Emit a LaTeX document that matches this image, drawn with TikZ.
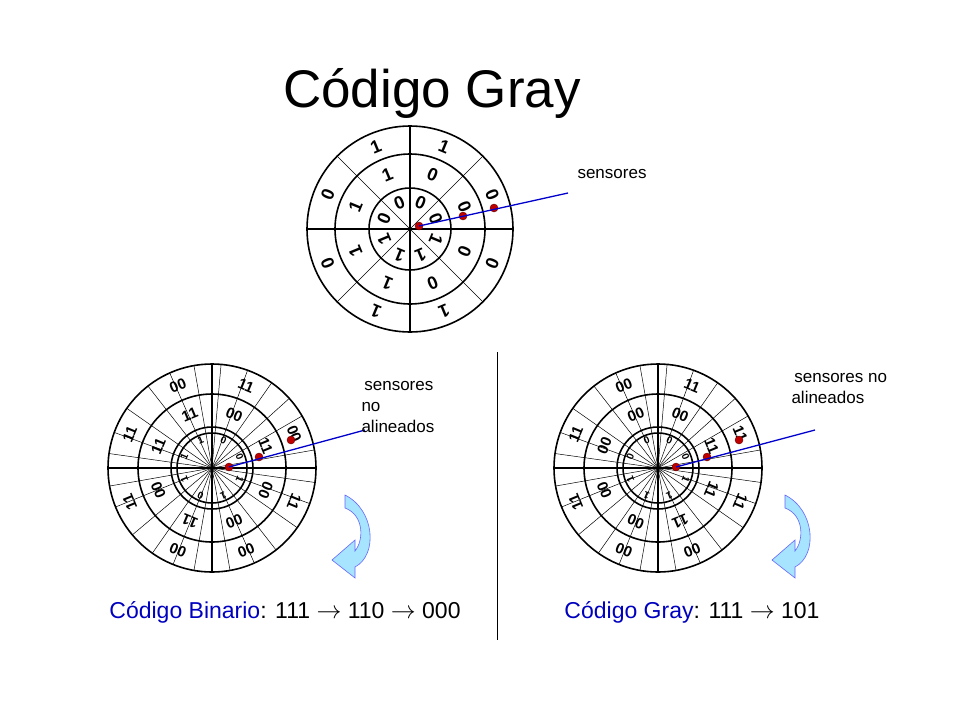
\documentclass[tikz,border=0pt]{standalone}
\usepackage{fontspec}
\setmainfont{Liberation Sans}
\begin{document}
\begin{tikzpicture}[x=1pt,y=-1pt,
  ring/.style={line width=1.6pt},
  thin/.style={line width=0.5pt},
  dig/.style={font=\bfseries\fontsize{18}{18}\selectfont,inner sep=1pt},
  mdig/.style={font=\bfseries\fontsize{15}{15}\selectfont,inner sep=0pt},
  sdig/.style={font=\bfseries\fontsize{10}{10}\selectfont,inner sep=0pt},
  sens/.style={circle,fill=red!75!black,draw=red!40!black,inner sep=0pt,minimum size=8pt},
  lbl/.style={font=\fontsize{17}{21}\selectfont,align=left,anchor=north west},
  arr/.style={fill=blue!30!cyan!35,draw=blue!60,line width=0.6pt}]
\useasboundingbox (0,0) rectangle (960,720);
\node (title) at (432,93) {\fontsize{53}{53}\selectfont Código Gray};
% ---------- top disk
\begin{scope}[shift={(410,229)}]
\coordinate (c0) at (0,0);
\foreach \a in {0,90} \draw[ring,line width=1.2pt] (\a:103) -- (\a+180:103);
\foreach \a in {45,135} \draw[thin] (\a:103) -- (\a+180:103);
\foreach \r in {103,75,41} \draw[ring] (0,0) circle (\r);
\foreach \a/\o/\m/\i in {67.5/1/0/0,22.5/0/0/0,-22.5/0/0/1,-67.5/1/0/1,-112.5/1/1/1,-157.5/0/1/1,157.5/0/1/0,112.5/1/1/0}{
  \node[dig,rotate=\a-90] at (-\a:89) {\o};
  \node[dig,rotate=\a-90] at (-\a:59) {\m};
  \node[dig,rotate=\a-90] at (-\a:28) {\i};
}
\end{scope}
\node[sens] (t1) at (419,226) {};
\node[sens] (t2) at (463,216) {};
\node[sens] (t3) at (494,208) {};
\coordinate (te) at (568,193);
\draw[blue!80!black,line width=1.3pt] (t1.center) -- (te);
\node[lbl] (ts) at (574,166) {sensores};
% ---------- lower disks
\foreach \cx/\code in {212/bin,658/gray}{
\begin{scope}[shift={(\cx,468)}]
\foreach \a in {0,90} \draw[line width=1.1pt] (\a:104) -- (\a+180:104);
\foreach \a in {8,20,35,52,66,80,100,112,125,140,158,170,188,200,215,232,246,260,275,290,305,318,330,350}
  \draw[thin] (0,0) -- (\a:104);
\foreach \r in {104,74,41,35} \draw[ring] (0,0) circle (\r);
\end{scope}}
\begin{scope}[shift={(212,468)}]
\foreach \a/\o/\m/\i in {67.5/1/0/0,22.5/0/1/0,-22.5/1/0/1,-67.5/0/0/1,-112.5/0/1/0,-157.5/1/0/1,157.5/1/1/1,112.5/0/1/1}{
  \node[mdig,rotate=\a-90] at (-\a:89) {\o\o};
  \node[mdig,rotate=\a-90] at (-\a:58) {\m\m};
  \node[sdig,rotate=\a-90] at (-\a:30) {\i};
}
\end{scope}
\begin{scope}[shift={(658,468)}]
\foreach \a/\o/\m/\i in {67.5/1/0/0,22.5/1/1/0,-22.5/1/1/1,-67.5/0/1/1,-112.5/0/0/1,-157.5/1/0/1,157.5/1/0/0,112.5/0/0/0}{
  \node[mdig,rotate=\a-90] at (-\a:89) {\o\o};
  \node[mdig,rotate=\a-90] at (-\a:58) {\m\m};
  \node[sdig,rotate=\a-90] at (-\a:30) {\i};
}
\end{scope}
\node[sens] (l1) at (229,467) {};
\node[sens] (l2) at (259,457) {};
\node[sens] (l3) at (291,440) {};
\coordinate (le) at (365,430);
\draw[blue!80!black,line width=1.3pt] (l1.center) -- (le);
\node[lbl] (ls) at (358,378) {\,sensores\\no\\alineados};
\node[sens] (r1) at (676,467) {};
\node[sens] (r2) at (707,457) {};
\node[sens] (r3) at (739,440) {};
\coordinate (re) at (815,430);
\draw[blue!80!black,line width=1.3pt] (r1.center) -- (re);
\node[lbl] (rs) at (788,370) {\,sensores no\\alineados};
% curved arrows
\foreach \ax in {350,790}{
\begin{scope}[shift={(\ax,0)}]
\draw[arr] (-5,495) .. controls (25,510) and (28,555) .. (5,567) -- (5,578) -- (-18,560) -- (5,540) -- (5,551)
  .. controls (14,540) and (14,515) .. (-5,508) -- cycle;
\end{scope}}
\coordinate (d1) at (497,352); \coordinate (d2) at (497,640);
\draw[thin] (d1) -- (d2);
\node (bb) at (285,612) {\fontsize{23}{23}\selectfont\textcolor{blue!75!black}{Código Binario}: 111 $\rightarrow$ 110 $\rightarrow$ 000};
\node (bg) at (692,612) {\fontsize{23}{23}\selectfont\textcolor{blue!75!black}{Código Gray}: 111 $\rightarrow$ 101};
\end{tikzpicture}
\end{document}
